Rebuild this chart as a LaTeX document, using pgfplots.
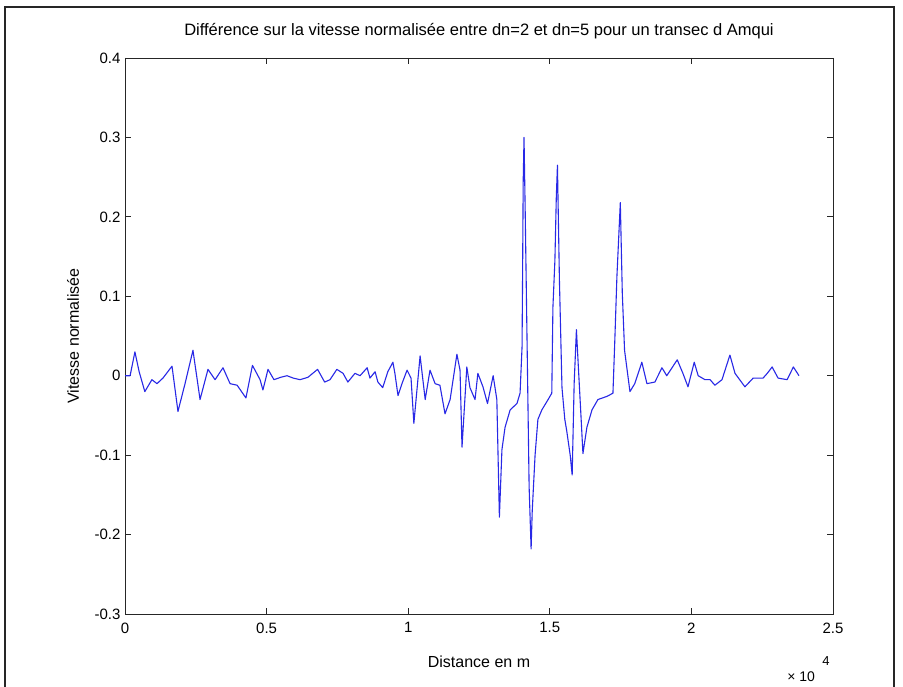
\documentclass[border=0pt]{standalone}
\usepackage{pgfplots}
\pgfplotsset{compat=1.18}
\usepackage{fontspec}
\setmainfont{Liberation Sans}
\definecolor{lineblue}{RGB}{40,40,230}
\begin{document}
\begin{tikzpicture}[x=1pt,y=1pt]
\useasboundingbox (0,0) rectangle (903,687);
\fill[white] (0,0) rectangle (903,687);
\draw[line width=2pt, black!85] (5,-3) -- (5,680) -- (894,680) -- (894,-3);
\begin{axis}[
  at={(125pt,73pt)}, anchor=south west,
  scale only axis, width=708pt, height=556pt,
  xmin=0, xmax=2.5, ymin=-0.3, ymax=0.4,
  xtick={0,0.5,1,1.5,2,2.5},
  xticklabels={0,0.5,1,1.5,2,2.5},
  ytick={-0.3,-0.2,-0.1,0,0.1,0.2,0.3,0.4},
  yticklabels={-0.3,-0.2,-0.1,0,0.1,0.2,0.3,0.4},
  tick align=inside, major tick length=6pt,
  axis line style={black!85, line width=0.8pt},
  every tick/.style={black!85, line width=0.8pt},
  ticklabel style={font=\fontsize{15}{17}\selectfont},
  xticklabel style={yshift=-5pt},
  yticklabel style={xshift=-1pt},
  label style={font=\fontsize{16}{18}\selectfont},
  xlabel={Distance en m},
  xlabel style={at={(axis description cs:0.5,-0.0863)}, anchor=center},
  ylabel={Vitesse normalisée},
  ylabel style={at={(axis description cs:-0.0734,0.5)}, anchor=center},
  title={Différence sur la vitesse normalisée entre dn=2 et dn=5 pour un transec d Amqui},
  title style={at={(axis description cs:0.5,1.0378)}, anchor=center, font=\fontsize{16.5}{18}\selectfont},
  clip=false,
]
\addplot[color=lineblue, line width=1.1pt, line join=round] coordinates {
(0,0.0) (0.018,0.0) (0.035,0.03) (0.05,0.005) (0.07,-0.02) (0.095,-0.005)
(0.113,-0.01) (0.134,-0.003) (0.166,0.012) (0.187,-0.045) (0.212,-0.01)
(0.24,0.032) (0.265,-0.03) (0.293,0.008) (0.318,-0.005) (0.346,0.01)
(0.371,-0.01) (0.396,-0.012) (0.427,-0.028) (0.45,0.013) (0.477,-0.005)
(0.487,-0.018) (0.505,0.008) (0.526,-0.005) (0.55,-0.002) (0.572,0.0)
(0.594,-0.003) (0.618,-0.005) (0.646,-0.002) (0.68,0.008) (0.705,-0.008)
(0.724,-0.005) (0.748,0.008) (0.77,0.003) (0.787,-0.008) (0.812,0.003)
(0.83,0.0) (0.855,0.01) (0.865,-0.003) (0.883,0.005) (0.893,-0.008)
(0.91,-0.015) (0.928,0.005) (0.946,0.017) (0.953,0.003) (0.964,-0.025)
(0.978,-0.01) (0.996,0.007) (1.01,-0.003) (1.02,-0.06) (1.042,0.025)
(1.06,-0.03) (1.077,0.007) (1.095,-0.01) (1.112,-0.012) (1.13,-0.048)
(1.148,-0.03) (1.172,0.027) (1.183,0.007) (1.19,-0.09) (1.207,0.011)
(1.218,-0.015) (1.236,-0.03) (1.246,0.003) (1.264,-0.014) (1.28,-0.035)
(1.3,0.0) (1.313,-0.03) (1.322,-0.178) (1.331,-0.093) (1.342,-0.065)
(1.36,-0.043) (1.384,-0.035) (1.395,-0.022) (1.402,0.036) (1.404,0.13)
(1.406,0.243) (1.409,0.3) (1.413,0.21) (1.42,0.036) (1.427,-0.14)
(1.434,-0.218) (1.438,-0.17) (1.448,-0.1) (1.458,-0.055) (1.472,-0.043)
(1.494,-0.03) (1.507,-0.022) (1.511,0.086) (1.518,0.145) (1.523,0.225)
(1.527,0.265) (1.534,0.12) (1.543,-0.015) (1.553,-0.055) (1.56,-0.07)
(1.572,-0.1) (1.579,-0.125) (1.586,-0.01) (1.594,0.058) (1.601,0.01)
(1.61,-0.05) (1.617,-0.098) (1.631,-0.065) (1.649,-0.043) (1.67,-0.03)
(1.702,-0.026) (1.723,-0.022) (1.73,0.049) (1.737,0.125) (1.745,0.187)
(1.749,0.218) (1.756,0.104) (1.764,0.032) (1.783,-0.02) (1.8,-0.01)
(1.825,0.017) (1.843,-0.01) (1.871,-0.008) (1.896,0.01) (1.913,0.0)
(1.95,0.02) (1.97,0.003) (1.988,-0.014) (2.01,0.017) (2.024,0.0)
(2.048,-0.005) (2.066,-0.005) (2.083,-0.012) (2.108,-0.005) (2.136,0.026)
(2.154,0.003) (2.189,-0.014) (2.218,-0.003) (2.253,-0.003) (2.268,0.003)
(2.285,0.011) (2.306,-0.003) (2.338,-0.005) (2.36,0.011) (2.38,0.0)
};
\node[font=\fontsize{14}{16}\selectfont] at (axis description cs:0.955,-0.113) {× 10};
\node[font=\fontsize{13}{15}\selectfont] at (axis description cs:0.99,-0.084) {4};
\end{axis}
\end{tikzpicture}
\end{document}
